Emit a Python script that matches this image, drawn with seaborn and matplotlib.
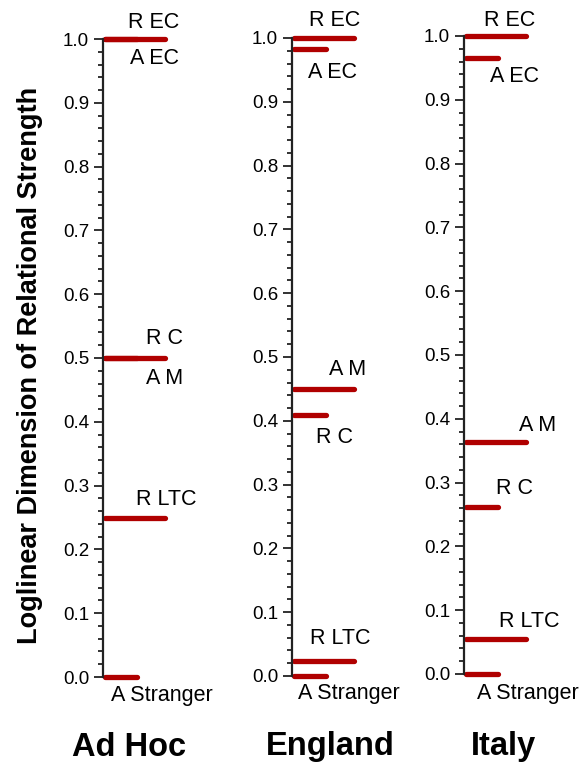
import numpy as np
import pandas as pd
import matplotlib
matplotlib.use("Agg")
import matplotlib.pyplot as plt
from matplotlib.ticker import MultipleLocator
import seaborn as sns

# values
panels = ["Ad Hoc", "England", "Italy"]
labels = ["R EC", "A EC", "R C", "A M", "R LTC", "A Stranger"]
series = ["long", "short", "short", "long", "long", "short"]
adhoc_vals = [1.0, 1.0, 0.5, 0.5, 0.25, 0.0]
england_vals = [1.0, 0.982, 0.409, 0.45, 0.024, 0.0]
italy_vals = [1.0, 0.966, 0.262, 0.364, 0.055, 0.0]

# label placement (pixels from spine / from line)
label_dx = {"Ad Hoc": [51, 51, 62, 62, 63, 59],
            "England": [43, 41, 43, 56, 48, 57],
            "Italy": [46, 50, 50, 74, 65, 64]}
label_dy = {"Ad Hoc": [17, -20, 19, -21, 18, -18],
            "England": [17, -23, -22, 19, 22, -18],
            "Italy": [15, -19, 18, 16, 17, -20]}

seg_len = {"long": 62, "short": 34}

rows = []
for p, vals in zip(panels, [adhoc_vals, england_vals, italy_vals]):
    for lab, kind, v in zip(labels, series, vals):
        for x in (1.5, seg_len[kind]):
            rows.append({"panel": p, "label": lab, "value": v, "x": x})
df = pd.DataFrame(rows)

sns.set_theme(style="white")
plt.rcParams["font.family"] = ["Liberation Sans", "DejaVu Sans"]

fig = plt.figure(figsize=(5.86, 7.64), dpi=100)
W, H = 586, 764
# (spine x, y of 1.0, y of 0.0) in pixels
geom = {"Ad Hoc": (103, 39, 677), "England": (292, 38, 676), "Italy": (464, 36, 674)}
title_x = {"Ad Hoc": 129, "England": 330, "Italy": 503}

for p in panels:
    sx, ytop, ybot = geom[p]
    ax = fig.add_axes([sx / W, (H - ybot) / H, 120 / W, (ybot - ytop) / H])
    sub = df[df["panel"] == p]
    sns.lineplot(data=sub, x="x", y="value", units="label", estimator=None,
                 color="#b00000", lw=3.8, solid_capstyle="round", ax=ax,
                 legend=False, clip_on=False)
    ax.set_xlim(0, 120)
    ax.set_ylim(0, 1)
    ax.yaxis.set_major_locator(MultipleLocator(0.1))
    ax.yaxis.set_minor_locator(MultipleLocator(0.02))
    ax.yaxis.set_major_formatter(matplotlib.ticker.FormatStrFormatter("%.1f"))
    ax.tick_params(axis="y", which="major", length=6.5, width=1.3, color="#222222",
                   labelsize=13.5, pad=3.5, left=True, labelcolor="black")
    ax.tick_params(axis="y", which="minor", length=3.6, width=1.3, color="#222222", left=True)
    ax.set_xticks([])
    for s in ["top", "right", "bottom"]:
        ax.spines[s].set_visible(False)
    ax.spines["left"].set_color("#222222")
    ax.spines["left"].set_linewidth(1.6)
    ax.set_xlabel("")
    ax.set_ylabel("")
    vals = dict(zip(labels, [adhoc_vals, england_vals, italy_vals][panels.index(p)]))
    for lab, dx, dy in zip(labels, label_dx[p], label_dy[p]):
        ax.annotate(lab, xy=(0, vals[lab]), xytext=(dx, dy), textcoords="offset pixels",
                    ha="center", va="center", fontsize=15.5, color="black",
                    annotation_clip=False)
    fig.text(title_x[p] / W, 1 - 747 / H, p, ha="center", va="center",
             fontsize=23.5, fontweight="bold", color="black")

fig.text(30 / W, 1 - 365 / H, "Loglinear Dimension of Relational Strength",
         rotation=90, ha="center", va="center", fontsize=19.5, fontweight="bold",
         color="black")

fig.savefig("out.png", dpi=100)
